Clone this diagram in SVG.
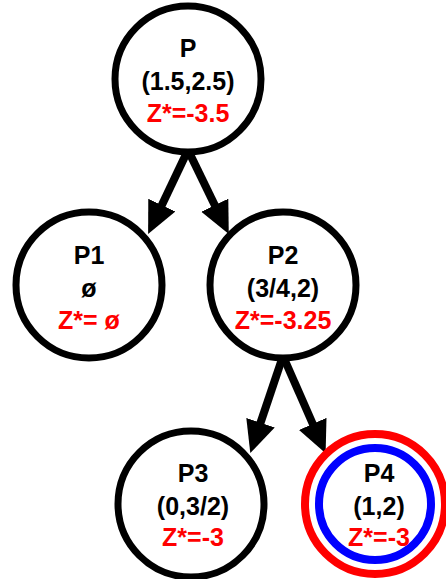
<svg xmlns="http://www.w3.org/2000/svg" width="446" height="579" viewBox="0 0 446 579">
  <style>
    .node { fill: #ffffff; stroke: #000000; stroke-width: 7; }
    .ring-red { fill: #ffffff; stroke: #ff0000; stroke-width: 8; }
    .ring-blue { fill: none; stroke: #0000ff; stroke-width: 8; }
    .label { font-family: "Liberation Sans", Arial, sans-serif; font-weight: bold; font-size: 25px; text-anchor: middle; fill: #000000; }
    .value { fill: #ff0000; }
    .edge { stroke: #000000; stroke-width: 8; fill: none; marker-end: url(#head); }
  </style>
  <defs>
    <marker id="head" markerUnits="userSpaceOnUse" viewBox="0 -16 34 32" markerWidth="34" markerHeight="32" refX="22" refY="0" orient="auto">
      <path d="M0,-15 L32,0 L0,15 Z" fill="#000000"/>
    </marker>
  </defs>

  <g id="edges">
    <line class="edge" x1="188" y1="150" x2="152.4" y2="225"/>
    <line class="edge" x1="188" y1="150" x2="224.4" y2="225"/>
    <line class="edge" x1="283" y1="356" x2="253.5" y2="443.6"/>
    <line class="edge" x1="283" y1="356" x2="321.6" y2="444"/>
  </g>

  <g id="P">
    <circle class="node" cx="188" cy="79" r="73"/>
    <text class="label" x="188" y="57">P</text>
    <text class="label" x="188" y="90">(1.5,2.5)</text>
    <text class="label value" x="188" y="122">Z*=-3.5</text>
  </g>

  <g id="P1">
    <circle class="node" cx="89" cy="285" r="73"/>
    <text class="label" x="89" y="264">P1</text>
    <text class="label" x="89" y="297">ø</text>
    <text class="label value" x="89" y="329">Z*= ø</text>
  </g>

  <g id="P2">
    <circle class="node" cx="283" cy="285" r="73"/>
    <text class="label" x="283" y="264">P2</text>
    <text class="label" x="283" y="297">(3/4,2)</text>
    <text class="label value" x="283" y="329">Z*=-3.25</text>
  </g>

  <g id="P3">
    <circle class="node" cx="191" cy="504" r="73"/>
    <text class="label" x="193" y="482">P3</text>
    <text class="label" x="193" y="515">(0,3/2)</text>
    <text class="label value" x="193" y="546">Z*=-3</text>
  </g>

  <g id="P4">
    <circle class="ring-red" cx="375" cy="504" r="70"/>
    <circle class="ring-blue" cx="375" cy="504" r="56"/>
    <text class="label" x="379" y="482">P4</text>
    <text class="label" x="379" y="515">(1,2)</text>
    <text class="label value" x="379" y="546">Z*=-3</text>
  </g>
</svg>
